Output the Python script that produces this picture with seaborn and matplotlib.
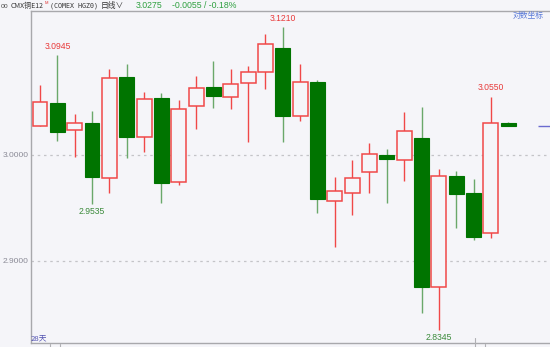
import numpy as np
import pandas as pd
import matplotlib
matplotlib.use("Agg")
import matplotlib.pyplot as plt
import seaborn as sns

# ---- data ----
opens  = [3.0270, 3.0494, 3.0236, 3.0305, 2.9783, 3.0739, 3.0167, 3.0538, 2.9745, 3.0459,
          3.0642, 3.0547, 3.0676, 3.0783, 3.1010, 3.0365, 3.0686, 2.9566, 2.9644, 2.9837,
          2.9997, 2.9950, 3.0158, 2.8758, 2.9802, 2.9639, 2.9267, 3.0305]
highs  = [3.0660, 3.0945, 3.0387, 3.0415, 3.0811, 3.0858, 3.0592, 3.0582, 3.0519, 3.0745,
          3.0887, 3.0808, 3.0840, 3.1142, 3.1210, 3.0856, 3.0705, 2.9795, 2.9950, 3.0113,
          3.0059, 3.0406, 3.0456, 2.9865, 2.9849, 2.9771, 3.0550, 3.0310]
lows   = [3.0270, 3.0135, 2.9984, 2.9535, 2.9639, 2.9975, 3.0025, 2.9550, 2.9720, 3.0242,
          3.0441, 3.0431, 3.0120, 3.0623, 3.0125, 3.0321, 2.9450, 2.9129, 2.9437, 2.9639,
          2.9547, 2.9755, 2.8512, 2.8345, 2.9314, 2.9195, 2.9220, 3.0270]
closes = [3.0503, 3.0214, 3.0299, 2.9790, 3.0723, 3.0167, 3.0525, 2.9739, 3.0431, 3.0629,
          3.0553, 3.0667, 3.0780, 3.1044, 3.0365, 3.0686, 2.9585, 2.9663, 2.9780, 3.0012,
          2.9959, 3.0224, 2.8758, 2.9799, 2.9635, 2.9224, 3.0299, 3.0275]
ytick_vals = [2.9, 3.0]
ytick_labels = ["2.9000", "3.0000"]
hi_labels = [(1, 3.0945), (14, 3.1210), (26, 3.0550)]
lo_labels = [(3, 2.9535), (23, 2.8345)]
last_price = 3.0275

df = pd.DataFrame({"i": np.arange(len(opens)), "open": opens, "high": highs,
                   "low": lows, "close": closes})
df["up"] = df["close"] >= df["open"]

BG = "#f5f5f9"
RED = "#f04848"
GREEN = "#007400"
GWICK = "#6aa86a"
CJK = ["Noto Sans CJK SC", "DejaVu Sans"]

sns.set_theme(style="white", rc={"axes.facecolor": BG, "figure.facecolor": BG})
plt.rcParams["font.family"] = ["Liberation Sans", "Noto Sans CJK SC", "DejaVu Sans"]

fig = plt.figure(figsize=(5.5, 3.47), dpi=100)
ax = fig.add_axes([31/550, 4/347, 519/550, 332/347])
ax.set_facecolor(BG)

# wicks
for _, r in df.iterrows():
    c = RED if r.up else GWICK
    ax.vlines(r.i, r.low, r.high, color=c, lw=1.0, zorder=2)

# bodies
up = df[df.up]
dn = df[~df.up]
ax.bar(up.i, (up.close - up.open).clip(lower=0.0008), bottom=up.open, width=0.86,
       facecolor=BG, edgecolor=RED, linewidth=1.1, zorder=3)
ax.bar(dn.i, dn.open - dn.close, bottom=dn.close, width=0.86,
       facecolor=GREEN, edgecolor=GREEN, linewidth=0.8, zorder=3)

ax.set_xlim(-0.52, 29.41)
ax.set_ylim(2.8226, 3.1358)

# gridlines
for v in ytick_vals:
    ax.axhline(v, color="#c4c4c8", lw=0.9, ls=(0, (2, 3)), zorder=1)

ax.set_yticks(ytick_vals)
ax.set_yticklabels(ytick_labels, color="#8a8a96", fontsize=6)
ax.tick_params(axis="y", length=0, pad=2)
ax.set_xticks([])

for s in ["left", "bottom", "top"]:
    ax.spines[s].set_color("#a8a8ac")
    ax.spines[s].set_linewidth(1.0)
ax.spines["right"].set_visible(False)

# hi / lo labels
for i, v in hi_labels:
    ax.annotate(f"{v:.4f}", (i, v), xytext=(0, 3), textcoords="offset points",
                ha="center", va="bottom", color="#e83a3a", fontsize=6.2)
for i, v in lo_labels:
    ax.annotate(f"{v:.4f}", (i, v), xytext=(0, -2), textcoords="offset points",
                ha="center", va="top", color="#3a8a3a", fontsize=6.2)

# current price marker
ax.hlines(last_price, 28.7, 29.41, color="#6b6bd0", lw=1.0, zorder=4)

# small marks on bottom axis
for px, y0, y1 in [(50, 344, 347), (60, 344, 347), (475, 338, 347), (485, 344, 347)]:
    fig.add_artist(plt.Line2D([px/550, px/550], [1 - y0/347, 1 - y1/347],
                              color="#b0b0b4", lw=0.8))

# header (placed sequentially so nothing overlaps)
fy = 1 - 6/347
renderer = fig.canvas.get_renderer()

def put(x_px, s, **kw):
    t = fig.text(x_px/550, fy, s, va="center", **kw)
    bb = t.get_window_extent(renderer=renderer)
    return bb.x1

fig.text(1/550, fy, "oo", color="#555", fontsize=5, va="center")
x = put(11, "CMX铜E12", color="#333", fontsize=5.0, family=CJK)
t = fig.text((x + 1)/550, fy + 0.008, "M", color="#e03030", fontsize=3.0, va="center")
x = t.get_window_extent(renderer=renderer).x1
put(x + 1, "(COMEX HGZ0)", color="#333", fontsize=4.8, family=["DejaVu Sans Mono"])
put(101, "日线∨", color="#333", fontsize=5.6, family=CJK)
put(136, "3.0275", color="#2fa040", fontsize=6.3)
put(172, "-0.0055 / -0.18%", color="#2fa040", fontsize=6.3)
fig.text(513/550, 1 - 16/347, "对数坐标", color="#5a7ad8", fontsize=5.6, va="center",
         family=CJK)
fig.text(31/550, 5/347, "28天", color="#5050b0", fontsize=5.6, va="bottom", family=CJK)

fig.savefig("out.png", dpi=100, facecolor=BG)
